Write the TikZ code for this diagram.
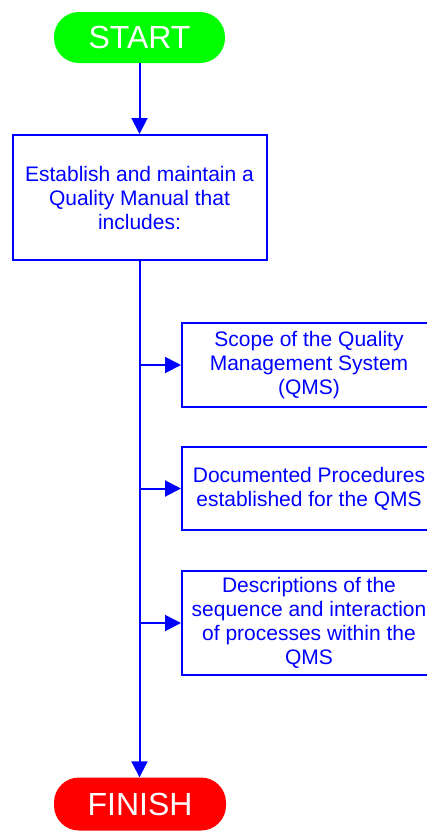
\documentclass[tikz,border=0pt]{standalone}
\usepackage{fontspec}
\setmainfont{Liberation Sans}
\usetikzlibrary{arrows.meta}
\definecolor{flowblue}{RGB}{0,0,255}
\definecolor{startgreen}{RGB}{0,255,0}
\definecolor{finishred}{RGB}{255,0,0}
\begin{document}
\begin{tikzpicture}[x=1pt,y=-1pt,
  terminal/.style={rectangle, rounded corners=25pt, inner sep=0pt,
    minimum width=171pt, minimum height=51pt, text=white,
    font=\fontsize{32}{38}\selectfont},
  stepbox/.style={rectangle, draw=flowblue, line width=2pt, inner sep=0pt,
    text=flowblue, align=center, font=\fontsize{21}{24}\selectfont},
  flow/.style={draw=flowblue, line width=2pt,
    -{Triangle[length=16pt,width=16pt]}}]
\useasboundingbox (0,0) rectangle (427,831);

\node[terminal, fill=startgreen] (start) at (139.5,37.5) {START};
\node[stepbox, minimum width=254pt, minimum height=125pt] (main) at (139.5,197.5)
  {Establish and maintain a\\Quality Manual that\\includes:};

\node[stepbox, minimum width=254pt, minimum height=84pt] (scope) at (309,365)
  {Scope of the Quality\\Management System\\(QMS)};
\node[stepbox, minimum width=254pt, minimum height=83pt] (proc) at (309,488.5)
  {Documented Procedures\\established for the QMS};
\node[stepbox, minimum width=254pt, minimum height=104pt] (seq) at (309,623)
  {Descriptions of the\\sequence and interaction\\of processes within the\\QMS};

\node[terminal, fill=finishred, minimum width=172pt, minimum height=53pt] (finish) at (140,804) {FINISH};

% main spine
\draw[flow] (start.south) -- (main.north);
\draw[flow] (main.south) -- (main.south |- finish.north);

% branches to the manual contents
\draw[flow] (main.south |- scope.west) -- (scope.west);
\draw[flow] (main.south |- proc.west) -- (proc.west);
\draw[flow] (main.south |- seq.west) -- (seq.west);
\end{tikzpicture}
\end{document}
